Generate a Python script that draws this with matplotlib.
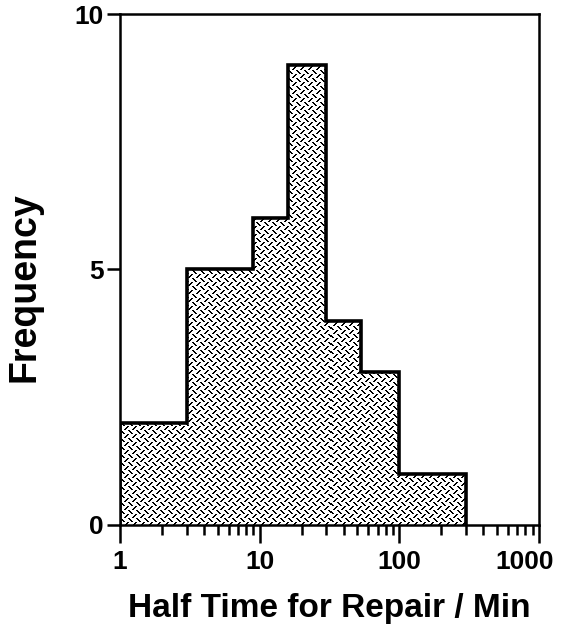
import numpy as np
import matplotlib
matplotlib.use("Agg")
import matplotlib.pyplot as plt
import matplotlib.transforms as mtransforms

plt.rcParams['font.family'] = ['Liberation Sans', 'DejaVu Sans']
plt.rcParams['font.weight'] = 'bold'

# histogram of repair half-times (bin edges in minutes, counts per bin)
bin_edges = [1, 3, 9, 16, 30, 53, 100, 300]
counts = [2, 5, 6, 9, 4, 3, 1]
x_ticks = [1, 10, 100, 1000]
x_ticklabels = ["1", "10", "100", "1000"]
y_ticks = [0, 5, 10]
y_ticklabels = ["0", "5", "10"]


def diamond_texture(h, w):
    # small "diamond plate" tile repeated over the axes pixel grid
    tile = np.ones((8, 8))
    for i in range(4):
        tile[(0 + i) % 8, (0 + i) % 8] = 0
        tile[(0 + i) % 8, (1 + i) % 8] = 0
        tile[(4 + i) % 8, (7 - i) % 8] = 0
        tile[(4 + i) % 8, (8 - i) % 8] = 0
    reps = (h // 8 + 1, w // 8 + 1)
    return np.tile(tile, reps)[:h, :w]


fig = plt.figure(figsize=(5.67, 6.29), dpi=100)
ax = fig.add_axes([0.2116, 0.1654, 0.7390, 0.8123])
ax.set_xscale("log")

# filled step shape only used as clip region for the texture
fill = ax.stairs(counts, bin_edges, fill=True, facecolor="none",
                 edgecolor="none", zorder=1)
ax.stairs(counts, bin_edges, baseline=0, fill=False, color="black",
          linewidth=2.6, zorder=3)

W = int(round(0.7390 * 567))
H = int(round(0.8123 * 629))
im = ax.imshow(diamond_texture(H, W), extent=(0, 1, 0, 1), transform=ax.transAxes,
               cmap="gray", vmin=0, vmax=1, interpolation="nearest",
               aspect="auto", zorder=2)
im.set_clip_path(fill)

ax.set_xlim(1, 1000)
ax.set_ylim(0, 10)

ax.set_xticks(x_ticks)
ax.set_xticklabels(x_ticklabels)
ax.xaxis.set_minor_locator(matplotlib.ticker.LogLocator(base=10, subs=np.arange(2, 10)))
ax.xaxis.set_minor_formatter(matplotlib.ticker.NullFormatter())
ax.set_yticks(y_ticks)
ax.set_yticklabels(y_ticklabels)

ax.tick_params(axis="x", which="major", direction="out", length=13, width=1.8,
               labelsize=19, pad=5)
ax.tick_params(axis="x", which="minor", direction="out", length=7, width=1.8)
ax.tick_params(axis="y", which="major", direction="out", length=9.5, width=1.8,
               labelsize=19, pad=2)
for sp in ax.spines.values():
    sp.set_linewidth(1.8)

# last label sits a little left of its tick, as in the original
last = ax.get_xticklabels()[-1]
last.set_transform(last.get_transform() +
                   mtransforms.ScaledTranslation(-10 / 72, 0, fig.dpi_scale_trans))

ax.set_xlabel("Half Time for Repair / Min", fontsize=24, fontweight="bold", labelpad=14)
ax.set_ylabel("Frequency", fontsize=27, fontweight="bold")
ax.yaxis.set_label_coords(-0.186, 0.466)

fig.savefig("out.png", dpi=100)
